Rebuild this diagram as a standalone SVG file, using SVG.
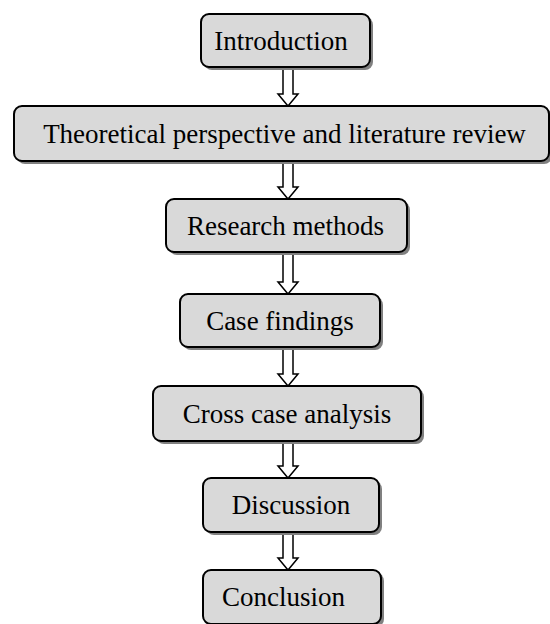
<svg xmlns="http://www.w3.org/2000/svg" width="550" height="624" viewBox="0 0 550 624">
<style>
.sh{fill:#808080;stroke:none}
.bx{fill:#d9d9d9;stroke:#000;stroke-width:2}
.t{font-family:"Liberation Serif","Times New Roman",serif;font-size:27px;fill:#000;text-anchor:middle}
.ar{fill:#fff;stroke:#000;stroke-width:1.5;stroke-linejoin:miter}
</style>
<rect width="550" height="624" fill="#fff"/>
<g id="connectors">
<path class="ar" d="M283,67 H293 V94 H298 L288,106 L278,94 H283 Z"/>
<path class="ar" d="M283,161 H293 V187 H298 L288,199 L278,187 H283 Z"/>
<path class="ar" d="M283,252 H293 V282 H298 L288,294 L278,282 H283 Z"/>
<path class="ar" d="M283,347 H293 V374 H298 L288,386 L278,374 H283 Z"/>
<path class="ar" d="M283,441 H293 V466 H298 L288,478 L278,466 H283 Z"/>
<path class="ar" d="M283,532 H293 V558 H298 L288,570 L278,558 H283 Z"/>
</g>
<g id="introduction">
<rect class="sh" x="204" y="17" width="169" height="53" rx="8"/>
<rect class="bx" x="201" y="14" width="169" height="53" rx="8"/>
<text class="t" x="281" y="50">Introduction</text>
</g>
<g id="theoretical">
<rect class="sh" x="17" y="109" width="535" height="55" rx="8"/>
<rect class="bx" x="14" y="106" width="535" height="55" rx="8"/>
<text class="t" x="284.5" y="143">Theoretical perspective and literature review</text>
</g>
<g id="research">
<rect class="sh" x="169" y="202" width="241" height="53" rx="8"/>
<rect class="bx" x="166" y="199" width="241" height="53" rx="8"/>
<text class="t" x="285.5" y="235">Research methods</text>
</g>
<g id="case">
<rect class="sh" x="183" y="297" width="200" height="53" rx="8"/>
<rect class="bx" x="180" y="294" width="200" height="53" rx="8"/>
<text class="t" x="280" y="330">Case findings</text>
</g>
<g id="cross">
<rect class="sh" x="156" y="389" width="268" height="55" rx="8"/>
<rect class="bx" x="153" y="386" width="268" height="55" rx="8"/>
<text class="t" x="287" y="423">Cross case analysis</text>
</g>
<g id="discussion">
<rect class="sh" x="206" y="481" width="176" height="54" rx="8"/>
<rect class="bx" x="203" y="478" width="176" height="54" rx="8"/>
<text class="t" x="291" y="514">Discussion</text>
</g>
<g id="conclusion">
<rect class="sh" x="206" y="573" width="178" height="54" rx="8"/>
<rect class="bx" x="203" y="570" width="178" height="54" rx="8"/>
<text class="t" x="283.5" y="606">Conclusion</text>
</g>
</svg>
